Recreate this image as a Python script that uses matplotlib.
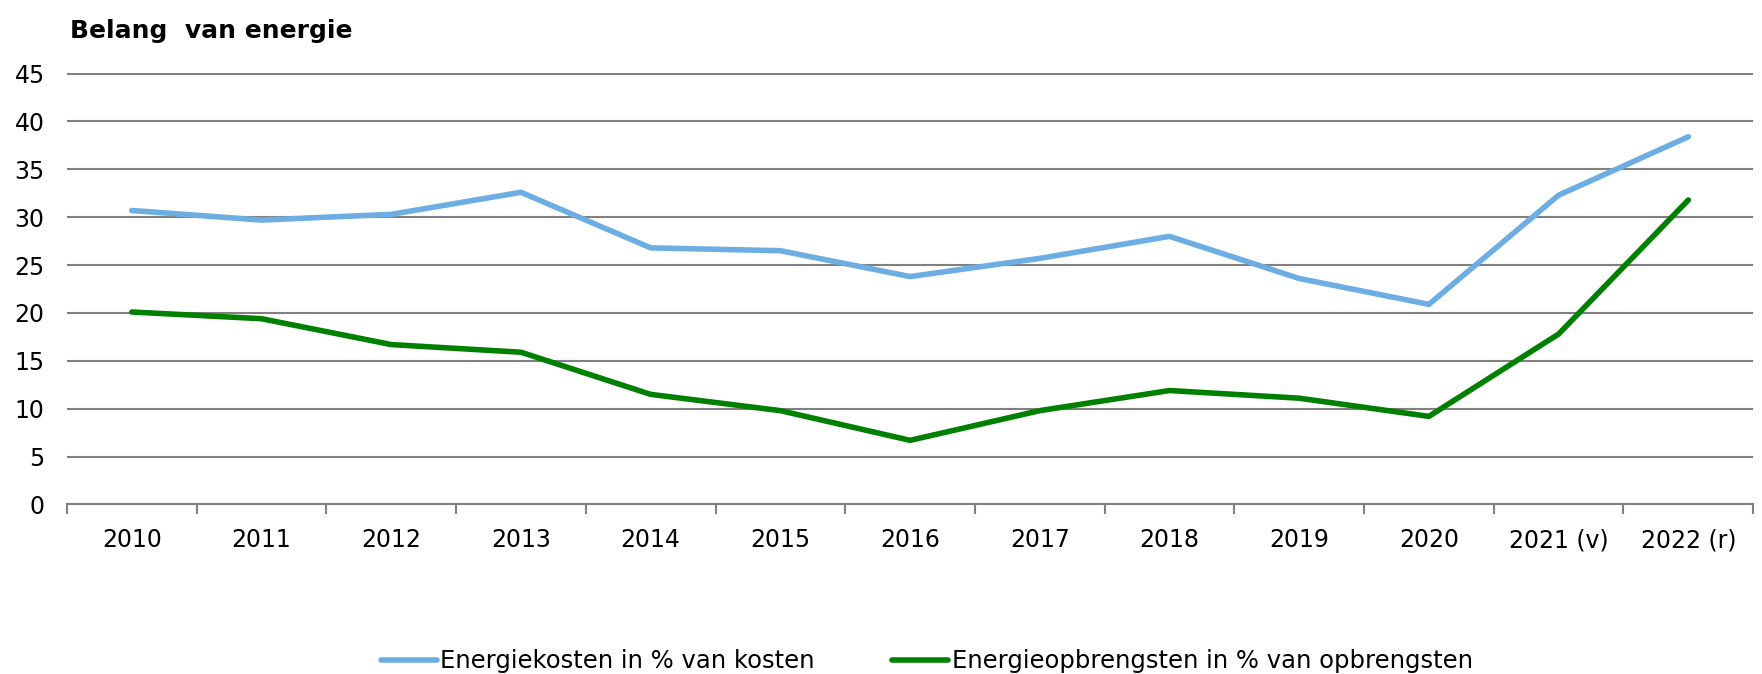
import matplotlib.pyplot as plt
import numpy as np

# data
jaren = ['2010', '2011', '2012', '2013', '2014', '2015', '2016',
         '2017', '2018', '2019', '2020', '2021 (v)', '2022 (r)']
kosten = [30.7, 29.7, 30.3, 32.6, 26.8, 26.5, 23.8, 25.7, 28.0, 23.6, 20.9, 32.3, 38.4]
opbrengsten = [20.1, 19.4, 16.7, 15.9, 11.5, 9.8, 6.7, 9.8, 11.9, 11.1, 9.2, 17.8, 31.8]

plt.rcParams['font.family'] = 'DejaVu Sans'

fig = plt.figure(figsize=(17.62, 6.74), dpi=100, facecolor='w')
ax = fig.add_axes([0.038, 0.2515, 0.957, 0.6405])

x = np.arange(len(jaren))
ax.plot(x, kosten, color='#6CAEE3', lw=4, solid_capstyle='round',
        label='Energiekosten in % van kosten')
ax.plot(x, opbrengsten, color='#008000', lw=4, solid_capstyle='round',
        label='Energieopbrengsten in % van opbrengsten')

ax.set_xlim(-0.5, len(jaren) - 0.5)
ax.set_ylim(0, 45.08)
ax.set_yticks(range(0, 46, 5))
ax.grid(axis='y', color='#808080', lw=1.5)
ax.set_axisbelow(True)

# category labels centred, tick marks on the boundaries
ax.set_xticks(x)
ax.set_xticklabels(jaren)
ax.set_xticks(np.arange(-0.5, len(jaren), 1), minor=True)
ax.tick_params(axis='x', which='major', length=0, pad=17, labelsize=17)
ax.tick_params(axis='x', which='minor', length=7, width=1.5, color='#808080')
ax.tick_params(axis='y', length=0, pad=16, labelsize=17)

for s in ('top', 'right', 'left'):
    ax.spines[s].set_visible(False)
ax.spines['bottom'].set_color('#808080')
ax.spines['bottom'].set_linewidth(1.5)

fig.text(0.040, 0.972, 'Belang  van energie', fontsize=18, fontweight='bold', va='top')

leg = fig.legend(loc='center', bbox_to_anchor=(0.526, 0.019), ncol=2, frameon=False,
                 fontsize=17.5, handlelength=2.3, handletextpad=0.15, columnspacing=3.2)

fig.savefig('out.png', dpi=100)
